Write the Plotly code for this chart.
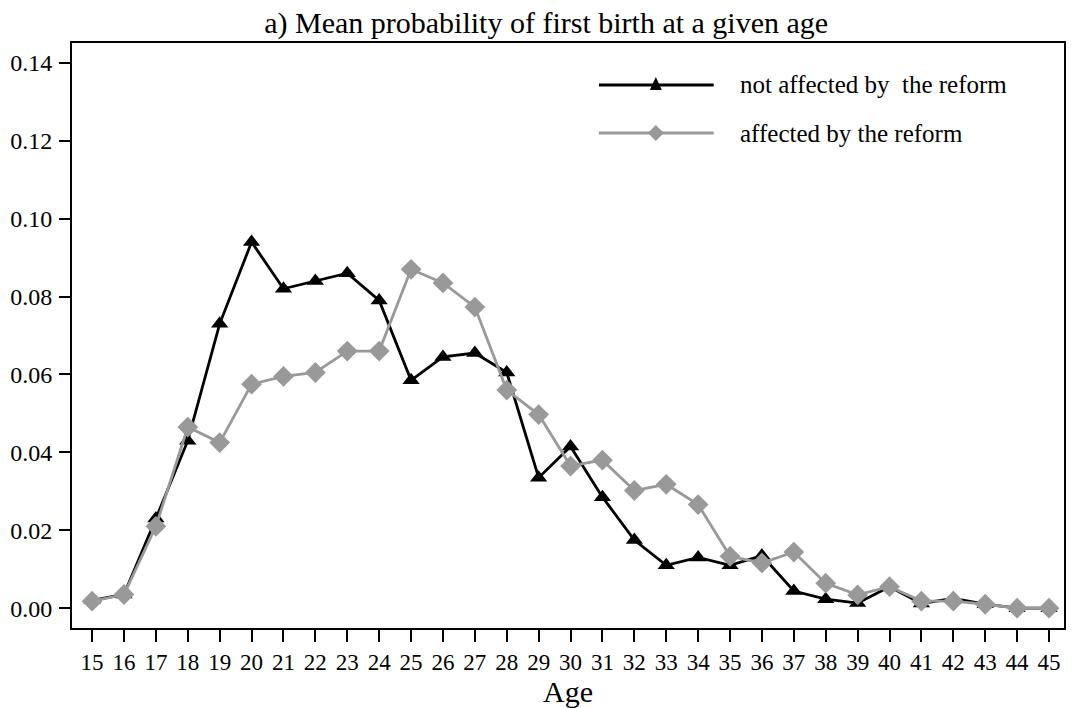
import plotly.graph_objects as go

ages = list(range(15, 46))
not_affected = [0.002, 0.0035, 0.023, 0.043, 0.073, 0.094, 0.082, 0.084, 0.086, 0.079,
                0.0585, 0.0645, 0.0655, 0.0605, 0.0335, 0.0415, 0.0285, 0.0175, 0.011, 0.013,
                0.011, 0.0135, 0.0044, 0.0023, 0.0013, 0.0055, 0.0012, 0.0025, 0.001, 0.0, 0.0]
affected = [0.0018, 0.0035, 0.021, 0.0465, 0.0425, 0.0575, 0.0595, 0.0605, 0.066, 0.066,
            0.087, 0.0835, 0.0773, 0.056, 0.0497, 0.0365, 0.038, 0.0302, 0.0318, 0.0266,
            0.0133, 0.0116, 0.0144, 0.0064, 0.0034, 0.0055, 0.0018, 0.0018, 0.001, 0.0, 0.0]
y_ticks = [0.00, 0.02, 0.04, 0.06, 0.08, 0.10, 0.12, 0.14]
name_black = "not affected by  the reform"
name_gray = "affected by the reform"

BLACK = "#000000"
GRAY = "#999999"
FONT = "Liberation Serif"

fig = go.Figure()
fig.add_trace(go.Scatter(x=ages, y=not_affected, mode="lines+markers", name=name_black,
                         line=dict(color=BLACK, width=2.8),
                         marker=dict(symbol="triangle-up", size=15, color=BLACK),
                         showlegend=False))
fig.add_trace(go.Scatter(x=ages, y=affected, mode="lines+markers", name=name_gray,
                         line=dict(color=GRAY, width=2.8),
                         marker=dict(symbol="diamond", size=16, color=GRAY),
                         showlegend=False))

# custom legend (paper coords)
W, H = 1073, 708
ml, mr, mt, mb = 72, 7, 43, 80
pw, ph = W - ml - mr, H - mt - mb

def px(x):
    return (x - ml) / pw

def py(y):
    return (H - mb - y) / ph

shapes = []
annotations = []
for yy, col, sym, label in [(85, BLACK, "tri", name_black), (133, GRAY, "dia", name_gray)]:
    shapes.append(dict(type="line", xref="paper", yref="paper",
                       x0=px(600), x1=px(715), y0=py(yy), y1=py(yy),
                       line=dict(color=col, width=2.8)))
    cx = 657
    if sym == "tri":
        path = f"M {px(cx-6)} {py(yy+5)} L {px(cx+6)} {py(yy+5)} L {px(cx)} {py(yy-8)} Z"
    else:
        path = f"M {px(cx-8)} {py(yy)} L {px(cx)} {py(yy-8)} L {px(cx+8)} {py(yy)} L {px(cx)} {py(yy+8)} Z"
    shapes.append(dict(type="path", xref="paper", yref="paper", path=path,
                       fillcolor=col, line=dict(color=col, width=0)))
    annotations.append(dict(xref="paper", yref="paper", x=px(739), y=py(yy),
                            xanchor="left", yanchor="middle", showarrow=False,
                            text=label.replace("  ", "&nbsp; "),
                            font=dict(family=FONT, size=25, color="black")))

fig.update_layout(
    width=W, height=H,
    margin=dict(l=ml, r=mr, t=mt, b=mb),
    paper_bgcolor="white", plot_bgcolor="white",
    font=dict(family=FONT, color="black", size=23),
    title=dict(text="a) Mean probability of first birth at a given age",
               x=0.509, xanchor="center", y=0.968, yanchor="middle",
               font=dict(family=FONT, size=30, color="black")),
    xaxis=dict(range=[14.37, 45.47], tickmode="array", tickvals=ages,
               ticktext=[str(a) for a in ages], ticks="outside", ticklen=12,
               tickwidth=1.5, tickcolor="black", showline=True, linecolor="black",
               linewidth=2, mirror=True, showgrid=False, zeroline=False,
               tickfont=dict(family=FONT, size=23),
               title=dict(text="Age", font=dict(family=FONT, size=30), standoff=0)),
    yaxis=dict(range=[-0.0051, 0.1451], tickmode="array", tickvals=y_ticks,
               ticktext=[f"{v:.2f}" for v in y_ticks], ticks="outside", ticklen=11,
               tickwidth=1.5, tickcolor="black", showline=True, linecolor="black",
               linewidth=2, mirror=True, showgrid=False, zeroline=False,
               ticklabelstandoff=2,
               tickfont=dict(family=FONT, size=24)),
    shapes=shapes, annotations=annotations,
)

fig.write_html("out.html", config={"displayModeBar": False},
               post_script="document.body.style.margin='0';")
